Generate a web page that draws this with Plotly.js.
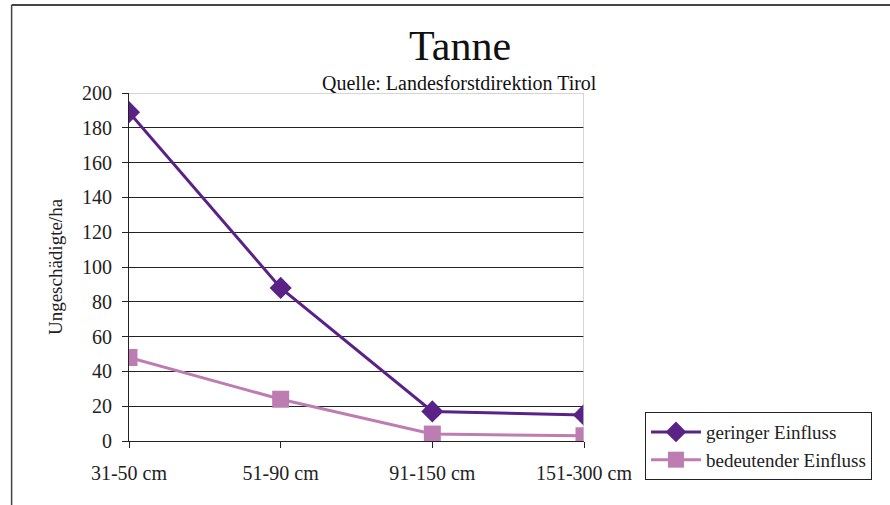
<!DOCTYPE html>
<html>
<head>
<meta charset="utf-8">
<script src="https://cdn.plot.ly/plotly-3.0.1.min.js"></script>
<style>html,body{margin:0;padding:0;background:#fff;}#chart{width:890px;height:505px;}</style>
</head>
<body>
<div id="chart"></div>
<script>
const categories = ["31-50 cm", "51-90 cm", "91-150 cm", "151-300 cm"];
const geringer = [189, 88, 17, 15];
const bedeutend = [48, 24, 4, 3];
const seriesNames = ["geringer Einfluss", "bedeutender Einfluss"];
const yTicks = [0, 20, 40, 60, 80, 100, 120, 140, 160, 180, 200];

const F = "'Liberation Serif', 'Times New Roman', serif";
const xIdx = categories.map((c, i) => i);

const traces = [
  {
    x: xIdx, y: geringer, name: seriesNames[0], type: "scatter", mode: "lines+markers",
    line: {color: "#5a2287", width: 3},
    marker: {symbol: "diamond", size: 17, color: "#5a2287"}
  },
  {
    x: xIdx, y: bedeutend, name: seriesNames[1], type: "scatter", mode: "lines+markers",
    line: {color: "#bd7cb2", width: 3},
    marker: {symbol: "square", size: 17, color: "#bd7cb2"}
  }
];

const layout = {
  width: 890, height: 505,
  margin: {l: 129, r: 306, t: 93, b: 64},
  paper_bgcolor: "#fff", plot_bgcolor: "#fff",
  font: {family: F, color: "#222", size: 20},
  title: {text: "Tanne", font: {family: F, size: 42, color: "#111"}, x: 0.517, xanchor: "center", y: 0.91, yanchor: "middle"},
  showlegend: true,
  legend: {
    x: 1.134, xanchor: "left", y: 0.083, yanchor: "top",
    bgcolor: "#fff", bordercolor: "#222", borderwidth: 1,
    font: {family: F, size: 19, color: "#222"},
    itemwidth: 50,
    tracegroupgap: 2
  },
  xaxis: {
    range: [0, 3], tickvals: xIdx, ticktext: categories,
    showgrid: false, zeroline: false, showline: true, linecolor: "#222", linewidth: 1,
    ticks: "outside", ticklen: 6, tickcolor: "#222",
    ticklabelstandoff: 8,
    tickfont: {family: F, size: 20, color: "#222"}, fixedrange: true
  },
  yaxis: {
    range: [0, 200], tickvals: yTicks,
    showgrid: true, gridcolor: "#222", gridwidth: 1, zeroline: false,
    showline: true, linecolor: "#222", linewidth: 1,
    ticks: "outside", ticklen: 6, tickcolor: "#222",
    ticklabelstandoff: 6,
    tickfont: {family: F, size: 20, color: "#222"},
    title: {text: "Ungeschädigte/ha", font: {family: F, size: 19, color: "#222"}, standoff: 14},
    fixedrange: true
  },
  shapes: [
    {type: "line", xref: "x", yref: "y", x0: 0, x1: 3, y0: 200, y1: 200, line: {color: "#c8c8c8", width: 1.5}},
    {type: "line", xref: "x", yref: "y", x0: 3, x1: 3, y0: 0, y1: 200, line: {color: "#c8c8c8", width: 1.5}},
    {type: "line", xref: "paper", yref: "paper", x0: -0.258, x1: 1.7, y0: 1.253, y1: 1.253, line: {color: "#444", width: 2}},
    {type: "line", xref: "paper", yref: "paper", x0: -0.258, x1: -0.258, y0: 1.253, y1: -0.2, line: {color: "#444", width: 1.5}}
  ],
  annotations: [
    {text: "Quelle: Landesforstdirektion Tirol", xref: "paper", yref: "paper", x: 0.727, y: 1.03,
     xanchor: "center", yanchor: "middle", showarrow: false, font: {family: F, size: 20, color: "#111"}}
  ]
};

Plotly.newPlot("chart", traces, layout, {displayModeBar: false, staticPlot: true});
</script>
</body>
</html>
